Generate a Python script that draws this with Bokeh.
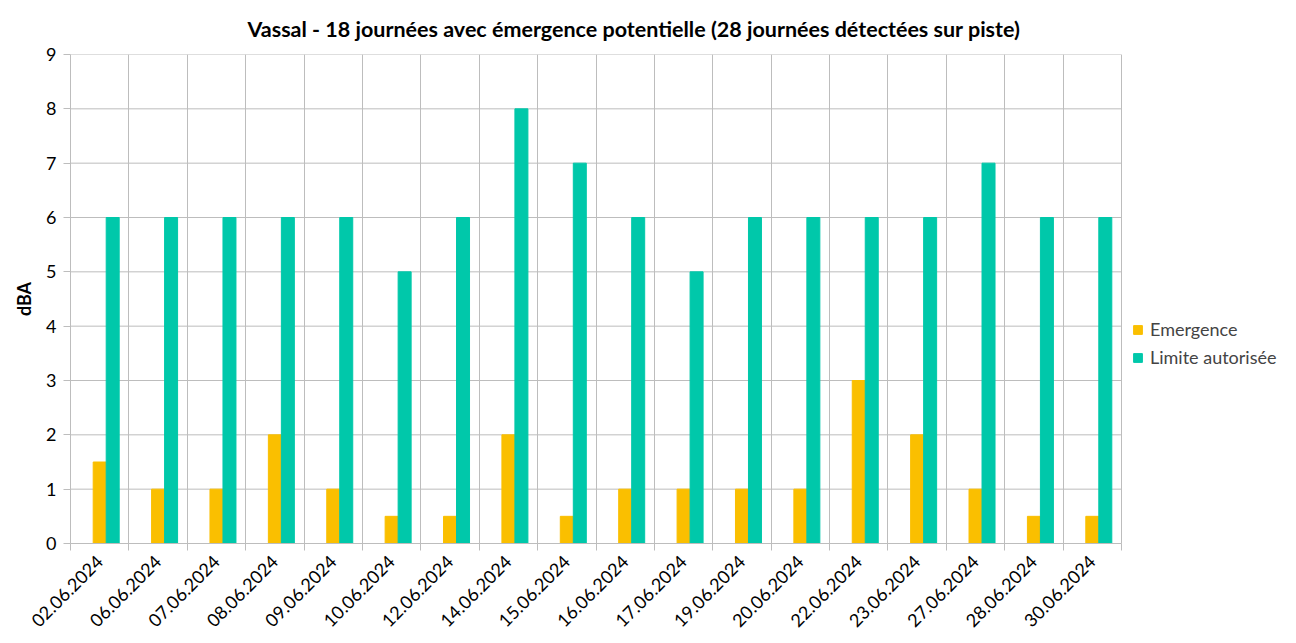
import numpy as np
from bokeh.plotting import figure
from bokeh.models import (ColumnDataSource, Range1d, FixedTicker, Legend, LegendItem, Title)
from bokeh.transform import dodge
from bokeh.embed import file_html
from bokeh.resources import INLINE

dates = ["02.06.2024", "06.06.2024", "07.06.2024", "08.06.2024", "09.06.2024",
         "10.06.2024", "12.06.2024", "14.06.2024", "15.06.2024", "16.06.2024",
         "17.06.2024", "19.06.2024", "20.06.2024", "22.06.2024", "23.06.2024",
         "27.06.2024", "28.06.2024", "30.06.2024"]
emergence = [1.5, 1, 1, 2, 1, 0.5, 0.5, 2, 0.5, 1, 1, 1, 1, 3, 2, 1, 0.5, 0.5]
limite = [6, 6, 6, 6, 6, 5, 6, 8, 7, 6, 5, 6, 6, 6, 6, 7, 6, 6]
y_ticks = list(range(0, 10))

ORANGE = "#FABF00"
TEAL = "#00C8AA"
GRID = "#BDBDBD"
FONT = "Lato"

n = len(dates)
xc = np.arange(n) + 0.5
src = ColumnDataSource(dict(xc=xc, emergence=emergence, limite=limite))

# layout: chart area spans 70..1121 px, frame extends to the figure edge to host the legend
W, LEFT, CHART_RIGHT = 1280, 70, 1121
x_end = n * (W - LEFT) / (CHART_RIGHT - LEFT)

p = figure(width=W, height=635, output_backend="svg", toolbar_location=None,
           x_range=Range1d(0, x_end), y_range=Range1d(0, 9),
           min_border_left=LEFT, min_border_right=0, min_border_top=53, min_border_bottom=90)
p.outline_line_color = None
p.background_fill_color = "white"

# horizontal grid lines (limited to the category span)
p.segment(x0=0, x1=n, y0=y_ticks, y1=y_ticks, line_color=GRID, line_width=1, level="underlay")

w = 0.2226
r1 = p.vbar(x=dodge("xc", 0, range=p.x_range), top="emergence", width=w, bottom=0,
            source=src, fill_color=ORANGE, line_color=ORANGE)
r2 = p.vbar(x=dodge("xc", w, range=p.x_range), top="limite", width=w, bottom=0,
            source=src, fill_color=TEAL, line_color=TEAL)

# x axis
p.xaxis.bounds = (0, n)
p.xaxis.ticker = FixedTicker(ticks=list(xc), minor_ticks=list(range(n + 1)))
p.xaxis.major_label_overrides = {float(x): d for x, d in zip(xc, dates)}
p.xaxis.major_label_orientation = np.pi / 4
p.xaxis.major_label_text_font = FONT
p.xaxis.major_label_text_font_size = "18px"
p.xaxis.major_label_text_color = "black"
p.xaxis.major_tick_out = 0
p.xaxis.major_tick_in = 0
p.xaxis.minor_tick_out = 7
p.xaxis.minor_tick_in = 0
p.xaxis.minor_tick_line_color = GRID
p.xaxis.axis_line_color = GRID
p.xaxis.major_label_standoff = 8
p.xgrid.ticker = FixedTicker(ticks=list(range(n + 1)))
p.xgrid.grid_line_color = GRID

# y axis
p.yaxis.ticker = FixedTicker(ticks=y_ticks)
p.yaxis.minor_tick_line_color = None
p.yaxis.major_tick_out = 7
p.yaxis.major_tick_in = 0
p.yaxis.major_tick_line_color = GRID
p.yaxis.axis_line_color = GRID
p.yaxis.major_label_text_font = FONT
p.yaxis.major_label_text_font_size = "18px"
p.yaxis.major_label_text_color = "black"
p.yaxis.major_label_standoff = 7
p.yaxis.axis_label = "dBA"
p.yaxis.axis_label_text_font = FONT
p.yaxis.axis_label_text_font_size = "18px"
p.yaxis.axis_label_text_font_style = "bold"
p.yaxis.axis_label_text_color = "black"
p.yaxis.axis_label_standoff = 8
p.ygrid.grid_line_color = None

p.title = Title(text="Vassal - 18 journées avec émergence potentielle (28 journées détectées sur piste)",
                align="left", offset=177, standoff=26, text_font=FONT, text_font_size="21.5px",
                text_font_style="bold", text_color="black")

legend = Legend(items=[LegendItem(label="Emergence", renderers=[r1]),
                       LegendItem(label="Limite autorisée", renderers=[r2])],
                location=(1132 - LEFT, 175), padding=0, margin=0, spacing=6,
                glyph_width=11, glyph_height=11, label_height=20, label_standoff=7,
                label_text_font=FONT, label_text_font_size="18px",
                border_line_color=None, background_fill_color=None)
p.add_layout(legend, "center")

open("out.html", "w").write(file_html(p, INLINE))
